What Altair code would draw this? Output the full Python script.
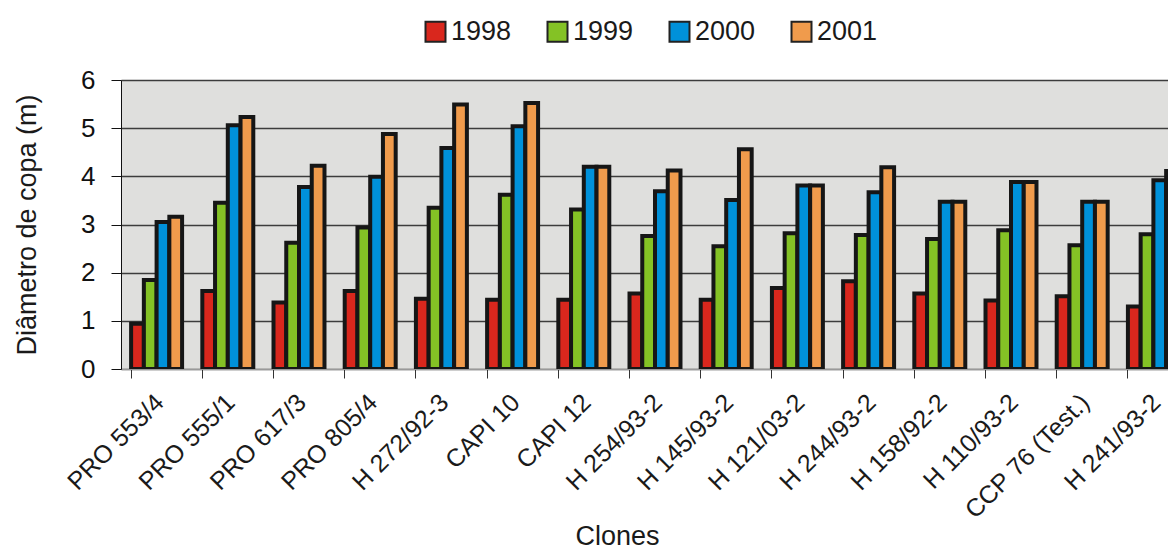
import altair as alt
import pandas as pd

clones = ["PRO 553/4", "PRO 555/1", "PRO 617/3", "PRO 805/4", "H 272/92-3",
          "CAPI 10", "CAPI 12", "H 254/93-2", "H 145/93-2", "H 121/03-2",
          "H 244/93-2", "H 158/92-2", "H 110/93-2", "CCP 76 (Test.)", "H 241/93-2"]
years = ["1998", "1999", "2000", "2001"]
v1998 = [0.94, 1.62, 1.38, 1.62, 1.46, 1.44, 1.44, 1.57, 1.44, 1.68, 1.82, 1.57, 1.42, 1.51, 1.30]
v1999 = [1.85, 3.45, 2.62, 2.94, 3.35, 3.62, 3.31, 2.76, 2.55, 2.82, 2.78, 2.70, 2.88, 2.57, 2.80]
v2000 = [3.05, 5.06, 3.78, 3.99, 4.59, 5.04, 4.20, 3.69, 3.51, 3.81, 3.67, 3.47, 3.88, 3.47, 3.92]
v2001 = [3.16, 5.23, 4.22, 4.88, 5.49, 5.52, 4.20, 4.12, 4.56, 3.81, 4.19, 3.47, 3.88, 3.47, 4.11]
y_ticks = [0, 1, 2, 3, 4, 5, 6]
colors = ["#d9271d", "#84c225", "#0091da", "#f09b4c"]

series = {"1998": v1998, "1999": v1999, "2000": v2000, "2001": v2001}
rows = []
for yr in years:
    for c, v in zip(clones, series[yr]):
        rows.append({"clone": c, "year": yr, "value": v})
df = pd.DataFrame(rows)

FONT = "Liberation Sans, Arial, sans-serif"
NARROW = "Liberation Sans Narrow, Arial Narrow, Liberation Sans, sans-serif"

chart = alt.Chart(df).mark_bar(stroke="#161616", strokeWidth=4, clip=True).encode(
    x=alt.X("clone:N", sort=clones,
            scale=alt.Scale(range=[0, 1068], paddingInner=0.284, paddingOuter=0.142),
            axis=alt.Axis(title="Clones", bandPosition=0, labelOffset=3,
                          labelAngle=-45, labelAlign="right", labelBaseline="middle",
                          labelPadding=20, labelFont=FONT, labelFontSize=25,
                          labelColor="#1a1a1a", labelOverlap=False, labelBound=False,
                          domainColor="#999999", domainWidth=1,
                          tickColor="#333333", tickSize=9, tickWidth=1,
                          grid=False,
                          titleFont=FONT, titleFontSize=27, titleFontWeight="normal",
                          titleColor="#1a1a1a", titleX=496, titleY=175,
                          titleAlign="center", titleBaseline="alphabetic")),
    xOffset=alt.XOffset("year:N", sort=years,
                        scale=alt.Scale(paddingInner=0, paddingOuter=0)),
    y=alt.Y("value:Q", scale=alt.Scale(domain=[0, 6], nice=False),
            axis=alt.Axis(title="Diâmetro de copa (m)", values=y_ticks,
                          labelFont=NARROW, labelFontSize=26, labelColor="#111111",
                          labelPadding=16, tickColor="#111111", tickSize=10, tickWidth=1,
                          domainColor="#111111", domainWidth=1,
                          grid=True, gridColor="#3c3c3c", gridWidth=1.6,
                          titleFont=FONT, titleFontSize=27, titleFontWeight="normal",
                          titleColor="#1a1a1a", titleX=-94, titleY=144.5,
                          titleAngle=270, titleAlign="center", titleBaseline="middle")),
    color=alt.Color("year:N", sort=years,
                    scale=alt.Scale(domain=years, range=colors),
                    legend=alt.Legend(title=None, orient="none", legendX=301, legendY=-62,
                                      direction="horizontal", columns=4,
                                      labelFont=FONT, labelFontSize=27, labelColor="#1a1a1a",
                                      symbolType="square", symbolSize=400,
                                      symbolStrokeColor="#222222", symbolStrokeWidth=2,
                                      symbolOpacity=1,
                                      columnPadding=31, labelOffset=2, padding=0)),
).properties(
    width=1047, height=289,
    autosize=alt.AutoSizeParams(type="none"),
    padding={"left": 113, "top": 72, "right": 0, "bottom": 177},
).configure_view(fill="#dfdfdd", strokeWidth=0)

chart.save("out.html", embed_options={"renderer": "svg", "actions": False})
